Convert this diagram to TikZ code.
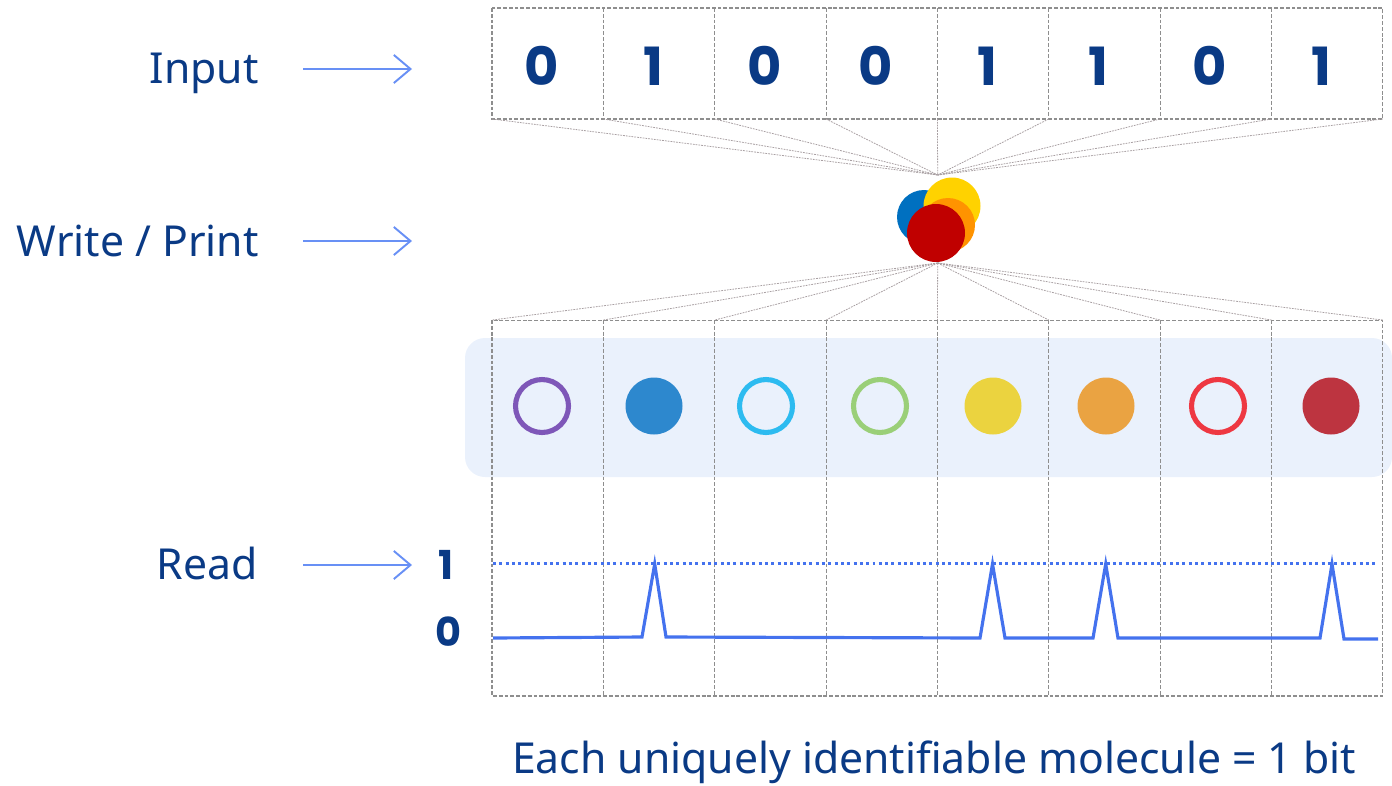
\documentclass[tikz,border=0pt]{standalone}
\usepackage{fontspec}
\setmainfont{Noto Sans}
\newfontfamily\digitfont{Poppins}
\usetikzlibrary{arrows.meta}
\definecolor{textBlue}{HTML}{0A3A85}
\definecolor{arrowBlue}{HTML}{6890F5}
\definecolor{signalBlue}{HTML}{4472EE}
\definecolor{gridGray}{HTML}{8E8E8E}
\definecolor{fanGray}{HTML}{A89FA2}
\definecolor{bandBlue}{HTML}{EAF1FC}

\begin{document}
\begin{tikzpicture}
[x=0.02cm,y=-0.02cm,
  cellDecorate/.style={minimum width=2.227cm,inner sep=0pt,outer sep=0pt},
  gridDecorate/.style={draw=gridGray,dash pattern=on 2.2pt off 1.1pt,line width=0.6pt},
  fanDecorate/.style={draw=fanGray,dash pattern=on 1pt off 0.6pt,line width=0.45pt},
  labelDecorate/.style={text=textBlue,font=\fontsize{24.3}{29}\selectfont,inner sep=0pt},
  digitDecorate/.style={text=textBlue,font=\digitfont\bfseries\fontsize{30}{36}\selectfont,inner sep=0pt},
  levelDecorate/.style={text=textBlue,font=\digitfont\bfseries\fontsize{22.7}{27}\selectfont,inner sep=0pt},
  arrowDecorate/.style={draw=arrowBlue,line width=1.1pt,-{Straight Barb[length=9.5pt,width=16pt,line width=1.1pt]}},
  ringDecorate/.style={circle,draw=#1,line width=2.9pt,minimum size=1.06cm,inner sep=0pt},
  dotDecorate/.style={circle,fill=#1,minimum size=1.14cm,inner sep=0pt},
  blobDecorate/.style={circle,fill=#1,inner sep=0pt}]
\useasboundingbox (0,0) rectangle (1392,785);

%% band behind the molecules
\fill[bandBlue,rounded corners=0.4cm] (465,338) rectangle (1392,477);

%% input cells and lower columns
\foreach \i/\bit in {1/0, 2/1, 3/0, 4/0, 5/1, 6/1, 7/0, 8/1} {
  \node (in\i) at ({492+111.35*(\i-0.5)},63.5) [cellDecorate,minimum height=2.22cm] {};
  \node[digitDecorate,anchor=base] at ({486+111.35*(\i-0.5)},85) {\bit};
  \node (col\i) at ({492+111.35*(\i-0.5)},508) [cellDecorate,minimum height=7.52cm] {};
}
\draw[gridDecorate] (in1.north west) rectangle (in8.south east);
\draw[gridDecorate] (col1.north west) rectangle (col8.south east);
\foreach \i in {1,...,7} {
  \draw[gridDecorate] (in\i.north east) -- (in\i.south east);
  \draw[gridDecorate] (col\i.north east) -- (col\i.south east);
}

%% fan in and fan out
\coordinate (writeTop) at (937.7,175);
\coordinate (writeBot) at (937.7,263);
\foreach \i in {1,...,8} {
  \draw[fanDecorate] (in\i.south west) -- (writeTop);
  \draw[fanDecorate] (writeBot) -- (col\i.north west);
}
\draw[fanDecorate] (in8.south east) -- (writeTop);
\draw[fanDecorate] (writeBot) -- (col8.north east);

%% printed molecules
\definecolor{blobBlueCol}{HTML}{0070C0}
\definecolor{blobYellowCol}{HTML}{FFD200}
\definecolor{blobOrangeCol}{HTML}{FF9300}
\definecolor{blobRedCol}{HTML}{C00000}
\node (blobBlue) at (924,217) [blobDecorate=blobBlueCol,minimum size=1.08cm] {};
\node (blobYellow) at (952,206) [blobDecorate=blobYellowCol,minimum size=1.14cm] {};
\node (blobOrange) at (948,225) [blobDecorate=blobOrangeCol,minimum size=1.08cm] {};
\node (blobRed) at (936,233) [blobDecorate=blobRedCol,minimum size=1.16cm] {};

%% molecules in the columns
\foreach \nodename/\x/\kind/\col in {m1/542/ring/7E57B8, m2/654/dot/2D88CE,
    m3/766/ring/2DBBF0, m4/880/ring/9ACF78, m5/993/dot/EBD33F,
    m6/1106/dot/EAA342, m7/1218/ring/EE3842, m8/1331/dot/BD3440} {
  \definecolor{molCol}{HTML}{\col}
  \node (\nodename) at (\x,406) [\kind Decorate=molCol] {};
}

%% read out
\draw[signalBlue,line width=1.7pt,dash pattern=on 1.7pt off 1.9pt] (493,563) -- (1378,563);
\draw[signalBlue,line width=1.8pt,line join=miter]
  (493,638) -- (642,637) -- (654.7,564) -- (666,637) -- (980,638) -- (992.5,564)
  -- (1005,638) -- (1093,638) -- (1105.7,564) -- (1118,638) -- (1320,638)
  -- (1332,564) -- (1344,639) -- (1378,639);
\node[levelDecorate,anchor=base] (lvlOne) at (446,579) {1};
\node[levelDecorate,anchor=base] (lvlZero) at (448,646.5) {0};

%% stage labels
\node[labelDecorate,anchor=base east] (inputLbl) at (259,83) {Input};
\node[labelDecorate,anchor=base east] (writeLbl) at (259,256) {Write / Print};
\node[labelDecorate,anchor=base east] (readLbl) at (258,579) {Read};
\foreach \nodename/\y in {inputArr/69, writeArr/241, readArr/565} {
  \coordinate (\nodename S) at (303,\y);
  \coordinate (\nodename E) at (412,\y);
  \draw[arrowDecorate] (\nodename S) -- (\nodename E);
}

\node[labelDecorate,anchor=base] (caption) at (934,773) {Each uniquely identifiable molecule = 1 bit};
\end{tikzpicture}
\end{document}
